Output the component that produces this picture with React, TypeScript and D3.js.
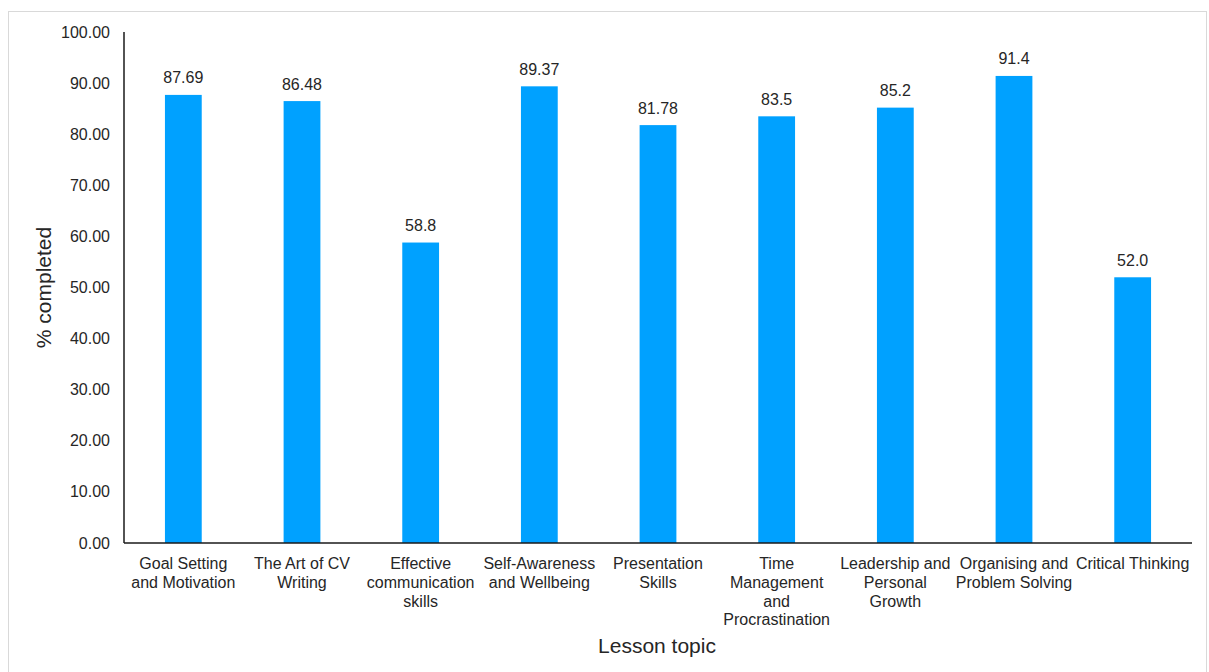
import React from "react";
import * as d3 from "d3";

// Lesson topics (line breaks mark where each axis label wraps)
const categories: string[] = [
  "Goal Setting\nand Motivation",
  "The Art of CV\nWriting",
  "Effective\ncommunication\nskills",
  "Self-Awareness\nand Wellbeing",
  "Presentation\nSkills",
  "Time\nManagement\nand\nProcrastination",
  "Leadership and\nPersonal\nGrowth",
  "Organising and\nProblem Solving",
  "Critical Thinking",
];

// Percentage of each lesson completed
const values: number[] = [87.69, 86.48, 58.8, 89.37, 81.78, 83.5, 85.2, 91.4, 52.0];
// Decimal places shown in each data label
const valueDecimals: number[] = [2, 2, 1, 2, 2, 1, 1, 1, 1];

const yTicks: number[] = [0, 10, 20, 30, 40, 50, 60, 70, 80, 90, 100];

const W = 1209;
const H = 672;
const margin = { left: 124, right: 17, top: 32, bottom: 129 };
const FONT = "Arial, 'Liberation Sans', Helvetica, sans-serif";
const TEXT = "#262626";
const BAR = "#00A1FF";

export default function App() {
  const x = d3
    .scaleBand<number>()
    .domain(d3.range(categories.length))
    .range([margin.left, W - margin.right])
    .paddingInner(0.69)
    .paddingOuter(0.345);
  const y = d3
    .scaleLinear()
    .domain([0, 100])
    .range([H - margin.bottom, margin.top]);

  const band = (W - margin.left - margin.right) / categories.length;
  const y0 = y(0);

  return (
    <svg
      width={W}
      height={H}
      style={{ position: "absolute", left: 0, top: 0, background: "#fff" }}
      fontFamily={FONT}
    >
      <rect x={8.5} y={11.5} width={1198} height={700} fill="#fff" stroke="#d9d9d9" strokeWidth={1} />

      {/* bars */}
      {values.map((v, i) => (
        <rect key={i} x={x(i)} y={y(v)} width={x.bandwidth()} height={y0 - y(v)} fill={BAR} />
      ))}

      {/* data labels */}
      {values.map((v, i) => (
        <text
          key={i}
          x={(x(i) as number) + x.bandwidth() / 2}
          y={y(v) - 11.5}
          textAnchor="middle"
          fontSize={16}
          fill={TEXT}
        >
          {v.toFixed(valueDecimals[i])}
        </text>
      ))}

      {/* y axis */}
      <line x1={margin.left} x2={margin.left} y1={y(100)} y2={y0} stroke="#1a1a1a" strokeWidth={1.5} />
      {yTicks.map((t) => (
        <text key={t} x={margin.left - 14} y={y(t) + 5.5} textAnchor="end" fontSize={16} fill={TEXT}>
          {t.toFixed(2)}
        </text>
      ))}

      {/* x axis */}
      <line x1={margin.left} x2={W - margin.right} y1={y0} y2={y0} stroke="#1a1a1a" strokeWidth={1.5} />
      {categories.map((c, i) => {
        const cx = margin.left + band * (i + 0.5);
        return (
          <text key={i} textAnchor="middle" fontSize={16} fill={TEXT}>
            {c.split("\n").map((line, j) => (
              <tspan key={j} x={cx} y={y0 + 26 + j * 18.8}>
                {line}
              </tspan>
            ))}
          </text>
        );
      })}

      {/* axis titles */}
      <text x={657} y={653} textAnchor="middle" fontSize={21} fill={TEXT}>
        Lesson topic
      </text>
      <text
        transform={`translate(51, ${(y(100) + y0) / 2}) rotate(-90)`}
        textAnchor="middle"
        fontSize={21}
        fill={TEXT}
      >
        % completed
      </text>
    </svg>
  );
}
